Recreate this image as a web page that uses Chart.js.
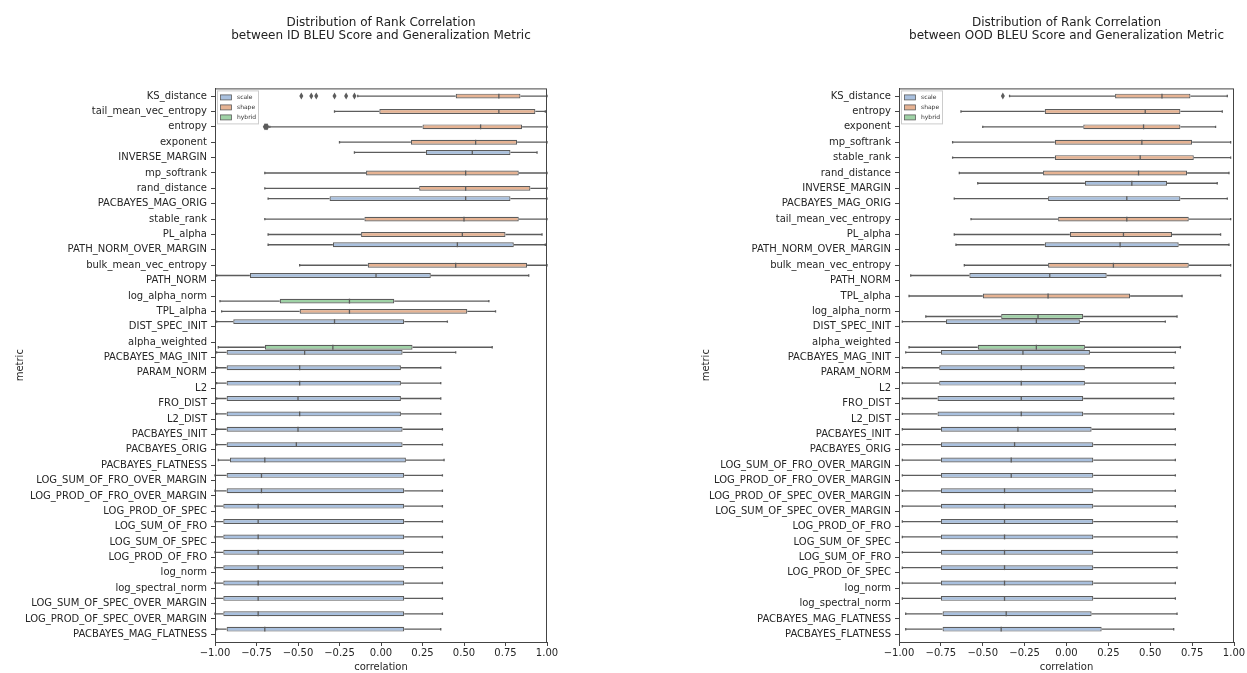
<!DOCTYPE html>
<html>
<head>
<meta charset="utf-8">
<script src="https://cdn.jsdelivr.net/npm/chart.js@4.4.0/dist/chart.umd.min.js"></script>
<style>
  html, body { margin: 0; padding: 0; background: #fff; }
  #wrap { position: relative; width: 1247px; height: 673px; }
  canvas { position: absolute; top: 0; }
</style>
</head>
<body>
<div id="wrap">
  <canvas id="chart_id" width="620" height="673" style="left:0"></canvas>
  <canvas id="chart_ood" width="627" height="673" style="left:620px"></canvas>
</div>
<script>
// hue groups, in seaborn order
var hueNames = ['scale', 'shape', 'hybrid'];
var hueColors = ['#a9c0de', '#e6b393', '#9fd2a6'];
var xTicks = [-1, -0.75, -0.5, -0.25, 0, 0.25, 0.5, 0.75, 1];

// ---- ID BLEU ----
var idMetrics = ['KS_distance', 'tail_mean_vec_entropy', 'entropy', 'exponent', 'INVERSE_MARGIN', 'mp_softrank',
  'rand_distance', 'PACBAYES_MAG_ORIG', 'stable_rank', 'PL_alpha', 'PATH_NORM_OVER_MARGIN', 'bulk_mean_vec_entropy',
  'PATH_NORM', 'log_alpha_norm', 'TPL_alpha', 'DIST_SPEC_INIT', 'alpha_weighted', 'PACBAYES_MAG_INIT', 'PARAM_NORM',
  'L2', 'FRO_DIST', 'L2_DIST', 'PACBAYES_INIT', 'PACBAYES_ORIG', 'PACBAYES_FLATNESS', 'LOG_SUM_OF_FRO_OVER_MARGIN',
  'LOG_PROD_OF_FRO_OVER_MARGIN', 'LOG_PROD_OF_SPEC', 'LOG_SUM_OF_FRO', 'LOG_SUM_OF_SPEC', 'LOG_PROD_OF_FRO',
  'log_norm', 'log_spectral_norm', 'LOG_SUM_OF_SPEC_OVER_MARGIN', 'LOG_PROD_OF_SPEC_OVER_MARGIN', 'PACBAYES_MAG_FLATNESS'];
var idHue = ['shape', 'shape', 'shape', 'shape', 'scale', 'shape', 'shape', 'scale', 'shape', 'shape', 'scale', 'shape',
  'scale', 'hybrid', 'shape', 'scale', 'hybrid', 'scale', 'scale', 'scale', 'scale', 'scale', 'scale', 'scale', 'scale',
  'scale', 'scale', 'scale', 'scale', 'scale', 'scale', 'scale', 'scale', 'scale', 'scale', 'scale'];
var idLow = [-0.14, -0.28, -0.67, -0.25, -0.16, -0.70, -0.70, -0.68, -0.70, -0.68, -0.68, -0.49, -0.99, -0.97, -0.96, -0.99,
  -0.98, -0.99, -0.99, -0.99, -0.99, -0.99, -0.99, -0.99, -0.98, -1.00, -1.00, -1.00, -1.00, -1.00, -1.00, -1.00, -1.00,
  -1.00, -1.00, -0.99];
var idQ1 = [0.45, -0.01, 0.25, 0.18, 0.27, -0.09, 0.23, -0.31, -0.10, -0.12, -0.29, -0.08, -0.79, -0.61, -0.49, -0.89,
  -0.70, -0.93, -0.93, -0.93, -0.93, -0.93, -0.93, -0.93, -0.91, -0.93, -0.93, -0.95, -0.95, -0.95, -0.95, -0.95, -0.95,
  -0.95, -0.95, -0.93];
var idMed = [0.71, 0.71, 0.60, 0.57, 0.55, 0.51, 0.51, 0.51, 0.50, 0.49, 0.46, 0.45, -0.03, -0.19, -0.19, -0.28, -0.29,
  -0.46, -0.49, -0.49, -0.50, -0.49, -0.50, -0.51, -0.70, -0.72, -0.72, -0.74, -0.74, -0.74, -0.74, -0.74, -0.74, -0.74,
  -0.74, -0.70];
var idQ3 = [0.84, 0.93, 0.85, 0.82, 0.78, 0.83, 0.90, 0.78, 0.83, 0.75, 0.80, 0.88, 0.30, 0.08, 0.52, 0.14, 0.19, 0.13,
  0.12, 0.12, 0.12, 0.12, 0.13, 0.13, 0.15, 0.14, 0.14, 0.14, 0.14, 0.14, 0.14, 0.14, 0.14, 0.14, 0.14, 0.14];
var idHigh = [1.00, 0.99, 1.00, 1.00, 0.94, 1.00, 1.00, 1.00, 1.00, 0.97, 0.99, 1.00, 0.89, 0.65, 0.69, 0.40, 0.67, 0.45,
  0.36, 0.36, 0.36, 0.36, 0.37, 0.37, 0.38, 0.37, 0.37, 0.37, 0.37, 0.37, 0.37, 0.37, 0.37, 0.37, 0.37, 0.36];
var idOutliers = [[-0.48, -0.42, -0.39, -0.28, -0.21, -0.16], [], [-0.70, -0.695, -0.69, -0.685]];

// ---- OOD BLEU ----
var oodMetrics = ['KS_distance', 'entropy', 'exponent', 'mp_softrank', 'stable_rank', 'rand_distance', 'INVERSE_MARGIN',
  'PACBAYES_MAG_ORIG', 'tail_mean_vec_entropy', 'PL_alpha', 'PATH_NORM_OVER_MARGIN', 'bulk_mean_vec_entropy', 'PATH_NORM',
  'TPL_alpha', 'log_alpha_norm', 'DIST_SPEC_INIT', 'alpha_weighted', 'PACBAYES_MAG_INIT', 'PARAM_NORM', 'L2', 'FRO_DIST',
  'L2_DIST', 'PACBAYES_INIT', 'PACBAYES_ORIG', 'LOG_SUM_OF_FRO_OVER_MARGIN', 'LOG_PROD_OF_FRO_OVER_MARGIN',
  'LOG_PROD_OF_SPEC_OVER_MARGIN', 'LOG_SUM_OF_SPEC_OVER_MARGIN', 'LOG_PROD_OF_FRO', 'LOG_SUM_OF_SPEC', 'LOG_SUM_OF_FRO',
  'LOG_PROD_OF_SPEC', 'log_norm', 'log_spectral_norm', 'PACBAYES_MAG_FLATNESS', 'PACBAYES_FLATNESS'];
var oodHue = ['shape', 'shape', 'shape', 'shape', 'shape', 'shape', 'scale', 'scale', 'shape', 'shape', 'scale', 'shape',
  'scale', 'shape', 'hybrid', 'scale', 'hybrid', 'scale', 'scale', 'scale', 'scale', 'scale', 'scale', 'scale', 'scale',
  'scale', 'scale', 'scale', 'scale', 'scale', 'scale', 'scale', 'scale', 'scale', 'scale', 'scale'];
var oodLow = [-0.34, -0.63, -0.50, -0.68, -0.68, -0.64, -0.53, -0.67, -0.57, -0.67, -0.66, -0.61, -0.93, -0.94, -0.84,
  -0.98, -0.94, -0.96, -0.98, -0.98, -0.98, -0.98, -0.98, -0.98, -0.98, -0.98, -0.98, -0.98, -0.98, -0.98, -0.98, -0.98,
  -0.98, -0.98, -0.96, -0.96];
var oodQ1 = [0.29, -0.13, 0.10, -0.07, -0.07, -0.14, 0.11, -0.11, -0.05, 0.02, -0.13, -0.11, -0.58, -0.50, -0.39, -0.72,
  -0.53, -0.75, -0.76, -0.76, -0.77, -0.77, -0.75, -0.75, -0.75, -0.75, -0.75, -0.75, -0.75, -0.75, -0.75, -0.75, -0.75,
  -0.75, -0.74, -0.74];
var oodMed = [0.57, 0.47, 0.46, 0.45, 0.44, 0.43, 0.39, 0.36, 0.36, 0.34, 0.32, 0.28, -0.10, -0.11, -0.17, -0.18, -0.18,
  -0.26, -0.27, -0.27, -0.27, -0.27, -0.29, -0.31, -0.33, -0.33, -0.37, -0.37, -0.37, -0.37, -0.37, -0.37, -0.37, -0.37,
  -0.36, -0.39];
var oodQ3 = [0.74, 0.68, 0.68, 0.75, 0.76, 0.72, 0.60, 0.68, 0.73, 0.63, 0.67, 0.73, 0.24, 0.38, 0.10, 0.08, 0.11, 0.14,
  0.11, 0.11, 0.10, 0.10, 0.15, 0.16, 0.16, 0.16, 0.16, 0.16, 0.16, 0.16, 0.16, 0.16, 0.16, 0.16, 0.15, 0.21];
var oodHigh = [0.96, 0.93, 0.89, 0.98, 0.98, 0.97, 0.90, 0.96, 0.98, 0.92, 0.97, 0.98, 0.92, 0.69, 0.66, 0.59, 0.68, 0.65,
  0.64, 0.65, 0.64, 0.64, 0.65, 0.65, 0.65, 0.65, 0.65, 0.65, 0.66, 0.66, 0.66, 0.66, 0.65, 0.65, 0.66, 0.64];
var oodOutliers = [[-0.38]];

Chart.defaults.font.family = "'DejaVu Sans', sans-serif";
Chart.defaults.color = '#262626';

var lineGrey = '#5c5c5c';
var stats = {
  chart_id: { low: idLow, med: idMed, high: idHigh, out: idOutliers },
  chart_ood: { low: oodLow, med: oodMed, high: oodHigh, out: oodOutliers }
};

// whiskers, caps, medians, fliers, frame and legend on top of the floating bars
var boxParts = {
  id: 'boxParts',
  beforeDatasetsDraw: function(chart) {
    var s = stats[chart.canvas.id], x = chart.scales.x, ctx = chart.ctx;
    ctx.save();
    ctx.strokeStyle = lineGrey;
    ctx.lineWidth = 1.3;
    chart.data.datasets.forEach(function(ds, d) {
      chart.getDatasetMeta(d).data.forEach(function(el, i) {
        if (ds.data[i] == null) return;
        var y = el.y, cap = el.height * 0.25;
        var lo = x.getPixelForValue(s.low[i]), hi = x.getPixelForValue(s.high[i]);
        ctx.beginPath();
        ctx.moveTo(lo, y); ctx.lineTo(x.getPixelForValue(ds.data[i][0]), y);
        ctx.moveTo(x.getPixelForValue(ds.data[i][1]), y); ctx.lineTo(hi, y);
        ctx.moveTo(lo, y - cap); ctx.lineTo(lo, y + cap);
        ctx.moveTo(hi, y - cap); ctx.lineTo(hi, y + cap);
        ctx.stroke();
      });
    });
    ctx.restore();
  },
  afterDatasetsDraw: function(chart) {
    var s = stats[chart.canvas.id], x = chart.scales.x, ctx = chart.ctx;
    ctx.save();
    ctx.strokeStyle = lineGrey;
    ctx.fillStyle = lineGrey;
    ctx.lineWidth = 1.3;
    chart.data.datasets.forEach(function(ds, d) {
      chart.getDatasetMeta(d).data.forEach(function(el, i) {
        if (ds.data[i] == null) return;
        var y = el.y, h = el.height / 2, m = x.getPixelForValue(s.med[i]);
        ctx.beginPath();
        ctx.moveTo(m, y - h); ctx.lineTo(m, y + h);
        ctx.stroke();
        (s.out[i] || []).forEach(function(v) {
          var px = x.getPixelForValue(v);
          ctx.beginPath();
          ctx.moveTo(px, y - 3.5); ctx.lineTo(px + 2, y); ctx.lineTo(px, y + 3.5); ctx.lineTo(px - 2, y);
          ctx.closePath();
          ctx.fill();
        });
      });
    });
    ctx.restore();
  },
  afterDraw: function(chart) {
    var a = chart.chartArea, ctx = chart.ctx;
    ctx.save();
    ctx.strokeStyle = '#444';
    ctx.lineWidth = 1;
    ctx.strokeRect(a.left + 0.5, a.top + 0.5, a.right - a.left - 1, a.bottom - a.top);
    // legend, upper left
    var lx = a.left + 2, ly = a.top + 2;
    ctx.fillStyle = 'rgba(255,255,255,0.8)';
    ctx.strokeStyle = '#cccccc';
    ctx.fillRect(lx, ly, 41, 33);
    ctx.strokeRect(lx + 0.5, ly + 0.5, 41, 33);
    ctx.font = "6px 'DejaVu Sans'";
    ctx.textBaseline = 'middle';
    chart.data.datasets.forEach(function(ds, d) {
      var yy = ly + 7 + d * 10;
      ctx.fillStyle = ds.backgroundColor;
      ctx.fillRect(lx + 3.5, yy - 2.5, 11, 5);
      ctx.strokeStyle = lineGrey;
      ctx.lineWidth = 0.8;
      ctx.strokeRect(lx + 3.5, yy - 2.5, 11, 5);
      ctx.fillStyle = '#333';
      ctx.fillText(ds.label, lx + 20, yy);
    });
    ctx.restore();
  }
};

function makeBoxChart(canvasId, titleLines, metrics, hue, q1, q3, pad, yWidth) {
  var datasets = hueNames.map(function(h, k) {
    return {
      label: h,
      data: metrics.map(function(m, i) { return hue[i] === h ? [q1[i], q3[i]] : null; }),
      backgroundColor: hueColors[k],
      borderColor: lineGrey,
      borderWidth: 1.2,
      borderSkipped: false,
      categoryPercentage: 1.0,
      barPercentage: 0.95
    };
  });
  return new Chart(document.getElementById(canvasId), {
    type: 'bar',
    data: { labels: metrics, datasets: datasets },
    options: {
      animation: false,
      responsive: false,
      devicePixelRatio: 1,
      indexAxis: 'y',
      layout: { padding: pad },
      plugins: {
        legend: { display: false },
        tooltip: { enabled: false },
        title: {
          display: true,
          text: titleLines,
          fullSize: false,
          color: '#222',
          font: { size: 12, weight: 'normal', lineHeight: 1.1 },
          padding: { top: 16, bottom: 46 }
        }
      },
      scales: {
        x: {
          type: 'linear',
          min: -1,
          max: 1,
          afterBuildTicks: function(scale) {
            scale.ticks = xTicks.map(function(v) { return { value: v }; });
          },
          afterFit: function(scale) { scale.height = 31; },
          ticks: {
            font: { size: 10 },
            padding: 1,
            maxRotation: 0,
            callback: function(v) { return (v < 0 ? '\u2212' : '') + Math.abs(v).toFixed(2); }
          },
          grid: { drawOnChartArea: false, drawTicks: true, tickLength: 4, color: '#444' },
          border: { color: '#444' },
          title: { display: true, text: 'correlation', font: { size: 10 }, padding: 0 }
        },
        y: {
          type: 'category',
          offset: true,
          afterFit: function(scale) { scale.width = yWidth; },
          ticks: { font: { size: 10 }, autoSkip: false, padding: 4 },
          grid: { drawOnChartArea: false, drawTicks: true, tickLength: 4, color: '#444', offset: false },
          border: { color: '#444' },
          title: { display: true, text: 'metric', font: { size: 10 }, padding: 0 }
        }
      }
    },
    plugins: [boxParts]
  });
}

makeBoxChart('chart_id',
  ['Distribution of Rank Correlation', 'between ID BLEU Score and Generalization Metric'],
  idMetrics, idHue, idQ1, idQ3,
  { left: 14, right: 73, top: 0, bottom: 0 }, 201);

makeBoxChart('chart_ood',
  ['Distribution of Rank Correlation', 'between OOD BLEU Score and Generalization Metric'],
  oodMetrics, oodHue, oodQ1, oodQ3,
  { left: 80, right: 13, top: 0, bottom: 0 }, 199);
</script>
</body>
</html>
